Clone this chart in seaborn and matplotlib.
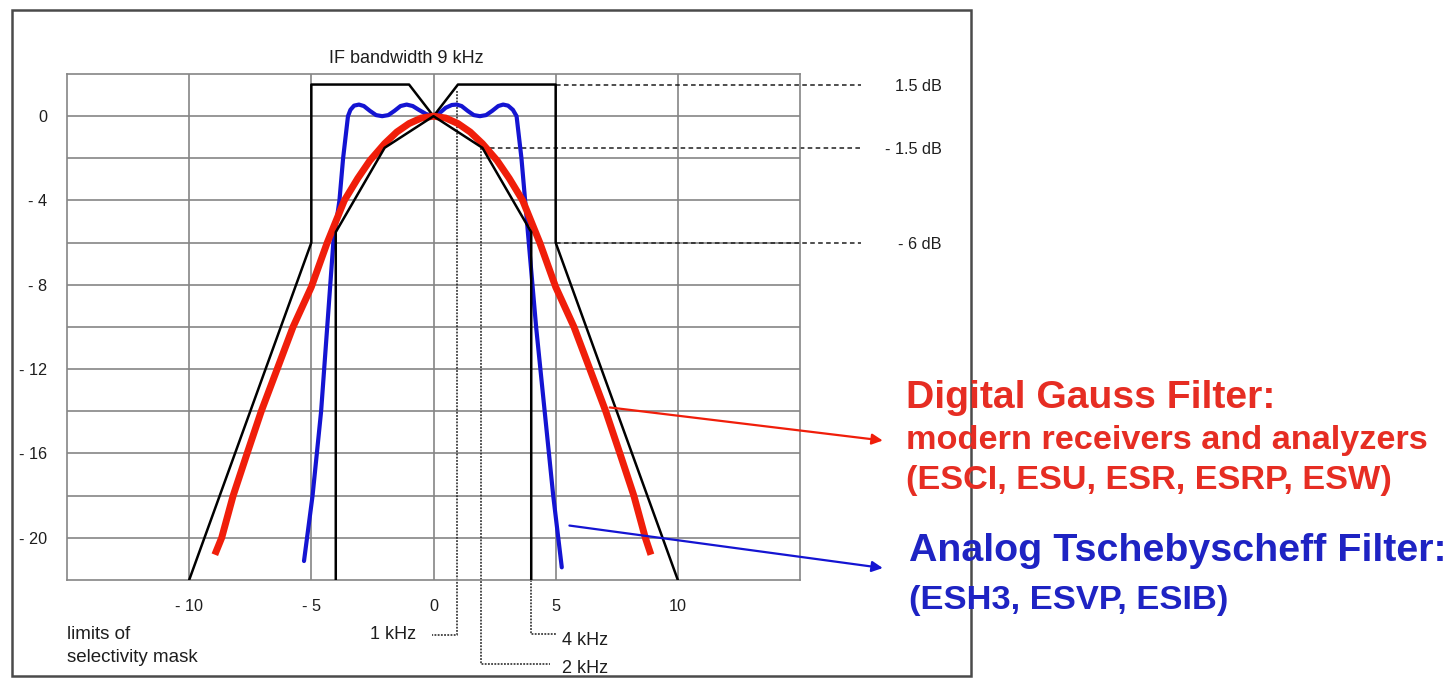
import matplotlib
matplotlib.use("Agg")
import matplotlib.pyplot as plt
import seaborn as sns
import pandas as pd
from matplotlib.patches import Rectangle

# ---- data (kHz offset, dB) ----
mask_outer_x = [-10, -5, -5, -1, 0, 1, 5, 5, 10]
mask_outer_y = [-22, -6, 1.5, 1.5, 0, 1.5, 1.5, -6, -22]
mask_inner_x = [-4, -4, -2, 0, 2, 4, 4]
mask_inner_y = [-22, -5.5, -1.5, 0, -1.5, -5.5, -22]

gauss_x = [-8.95, -8.67, -8.2, -7.63, -7.05, -6.4, -5.75, -5.0, -4.35, -3.65, -3.1, -2.6, -2.0, -1.5,
           -1.0, -0.5, 0,
           0.5, 1.0, 1.5, 2.0, 2.6, 3.1, 3.65, 4.35, 5.0, 5.75, 6.4, 7.05, 7.63, 8.2, 8.67, 8.9]
gauss_y = [-20.8, -20, -18, -16, -14, -12, -10, -8.1, -6, -4, -2.95, -2.1, -1.3, -0.75,
           -0.35, -0.09, 0,
           -0.09, -0.35, -0.75, -1.3, -2.1, -2.95, -4, -6, -8.1, -10, -12, -14, -16, -18, -20, -20.8]

tscheb_x = [-5.3, -4.95, -4.6, -4.35, -4.1, -3.85, -3.7, -3.5, -3.4, -3.25, -3.05, -2.85, -2.6, -2.35,
            -2.1, -1.85, -1.6, -1.35, -1.1, -0.85, -0.6, -0.3, 0,
            0.3, 0.5, 0.75, 0.95, 1.15, 1.4, 1.65, 1.9, 2.15, 2.4, 2.65, 2.85, 3.05, 3.25, 3.4,
            3.6, 3.75, 3.9, 4.2, 4.55, 4.9, 5.25]
tscheb_y = [-21.1, -18, -14, -10, -6, -4, -2, 0, 0.3, 0.5, 0.55, 0.48, 0.25, 0.05,
            0.0, 0.05, 0.25, 0.48, 0.55, 0.48, 0.3, 0.1, 0,
            0.2, 0.4, 0.53, 0.55, 0.48, 0.25, 0.05, 0.0, 0.05, 0.25, 0.48, 0.55, 0.5, 0.3, 0,
            -2, -4, -6, -10, -14, -18, -21.4]

y_ticks = [0, -4, -8, -12, -16, -20]
y_labels = ["0", "- 4", "- 8", "- 12", "- 16", "- 20"]
x_ticks = [-10, -5, 0, 5, 10]
x_labels = ["- 10", "- 5", "0", "5", "10"]

db_marks = [1.5, -1.5, -6]
db_labels = ["1.5 dB", "- 1.5 dB", "- 6 dB"]

RED = "#f01e0a"
BLUE = "#1414d2"
TXT_RED = "#e62d23"
TXT_BLUE = "#1e23c3"
GRID = "#858585"
INK = "#1e1e1e"

sns.set_theme(style="white")
plt.rcParams["font.family"] = ["Liberation Sans", "DejaVu Sans"]

W, H = 1453, 678
fig = plt.figure(figsize=(W / 100, H / 100), dpi=100)
fig.patch.set_facecolor("white")

def fx(px):
    return px / W

def fy(py):
    return 1 - py / H

ax = fig.add_axes([fx(67), fy(580), fx(800) - fx(67), fy(74) - fy(580)])
ax.set_xlim(-15, 15)
ax.set_ylim(-22, 2)

# grid
for gy in range(-20, 1, 2):
    ax.axhline(gy, color=GRID, lw=1.2, zorder=0)
for gx in x_ticks:
    ax.axvline(gx, color=GRID, lw=1.2, zorder=0)
for s in ax.spines.values():
    s.set_color(GRID)
    s.set_linewidth(1.2)

ax.set_xticks(x_ticks)
ax.set_xticklabels(x_labels)
ax.set_yticks(y_ticks)
ax.set_yticklabels(y_labels)
ax.tick_params(axis="both", length=0, labelsize=11.7, colors=INK)
ax.tick_params(axis="y", pad=14)
ax.tick_params(axis="x", pad=14)

# curves
df_mo = pd.DataFrame({"x": mask_outer_x, "y": mask_outer_y})
df_mi = pd.DataFrame({"x": mask_inner_x, "y": mask_inner_y})
df_g = pd.DataFrame({"x": gauss_x, "y": gauss_y})
df_t = pd.DataFrame({"x": tscheb_x, "y": tscheb_y})

sns.lineplot(data=df_t, x="x", y="y", sort=False, estimator=None, color=BLUE, lw=3.0, ax=ax, zorder=3,
             solid_joinstyle="round")
sns.lineplot(data=df_mo, x="x", y="y", sort=False, estimator=None, color="black", lw=1.8, ax=ax, zorder=4)
sns.lineplot(data=df_g, x="x", y="y", sort=False, estimator=None, color=RED, lw=5.0, ax=ax, zorder=5,
             solid_capstyle="butt", solid_joinstyle="round")
sns.lineplot(data=df_mi, x="x", y="y", sort=False, estimator=None, color="black", lw=1.8, ax=ax, zorder=6)
ax.set_xlabel("")
ax.set_ylabel("")

# dB marker lines
db_start = [5, 2, 5]
for yv, x0, lab in zip(db_marks, db_start, db_labels):
    ax.plot([x0, 17.5], [yv, yv], color=INK, lw=1.1, ls=(0, (3, 2.2)), clip_on=False, zorder=2)
    ax.text(20.8, yv - 0.1, lab, ha="right", va="center", fontsize=11.7, color=INK, clip_on=False)

# kHz marker lines
dot = (0, (1.2, 0.9))
ax.plot([0.95, 0.95, -0.08], [1.2, -24.6, -24.6], color=INK, lw=1.1, ls=dot, clip_on=False, zorder=2)
ax.text(-0.7, -24.6, "1 kHz", ha="right", va="center", fontsize=13, color=INK)
ax.plot([1.95, 1.95, 4.75], [-1.5, -25.98, -25.98], color=INK, lw=1.1, ls=dot, clip_on=False, zorder=2)
ax.text(5.25, -26.2, "2 kHz", ha="left", va="center", fontsize=13, color=INK)
ax.plot([3.98, 3.98, 5.04], [-22, -24.56, -24.56], color=INK, lw=1.1, ls=dot, clip_on=False, zorder=2)
ax.text(5.25, -24.85, "4 kHz", ha="left", va="center", fontsize=13, color=INK)

ax.text(-15, -24.2, "limits of\nselectivity mask", ha="left", va="top", fontsize=13.5,
        color=INK, linespacing=1.4)
ax.text(-1.1, 2.75, "IF bandwidth 9 kHz", ha="center", va="center", fontsize=13, color=INK)

# arrows
ax.annotate("", xy=(18.5, -15.4), xytext=(7.1, -13.8), xycoords="data",
            arrowprops=dict(arrowstyle="-|>", color=RED, lw=1.6, mutation_scale=16),
            annotation_clip=False, zorder=7)
ax.annotate("", xy=(18.5, -21.45), xytext=(5.45, -19.4), xycoords="data",
            arrowprops=dict(arrowstyle="-|>", color=BLUE, lw=1.6, mutation_scale=16),
            annotation_clip=False, zorder=7)

# frame of the slide picture
fig.add_artist(Rectangle((fx(12), fy(676)), fx(971) - fx(12), fy(10) - fy(676),
                         transform=fig.transFigure, fill=False, edgecolor="#4a4a4a", lw=1.8, zorder=1))

# right-hand captions
fig.text(fx(906), fy(398), "Digital Gauss Filter:", color=TXT_RED, fontsize=28.2, fontweight="bold",
         ha="left", va="center")
fig.text(fx(906), fy(441), "modern receivers and analyzers", color=TXT_RED, fontsize=24.7,
         fontweight="bold", ha="left", va="center")
fig.text(fx(906), fy(481), "(ESCI, ESU, ESR, ESRP, ESW)", color=TXT_RED, fontsize=24.7, fontweight="bold",
         ha="left", va="center")
fig.text(fx(909), fy(551), "Analog Tschebyscheff Filter:", color=TXT_BLUE, fontsize=28.4,
         fontweight="bold", ha="left", va="center")
fig.text(fx(909), fy(600), "(ESH3, ESVP, ESIB)", color=TXT_BLUE, fontsize=24.8, fontweight="bold",
         ha="left", va="center")

fig.savefig("out.png", dpi=100, facecolor="white")
